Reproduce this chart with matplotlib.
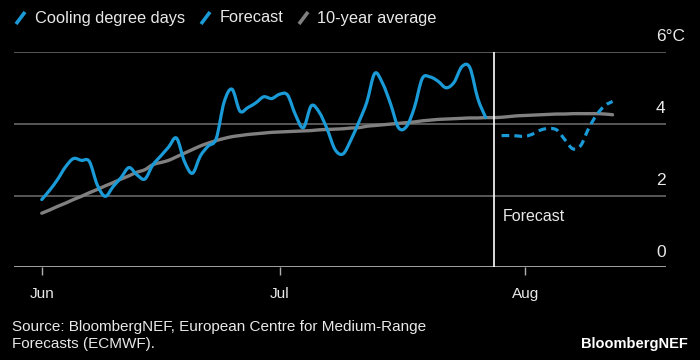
import numpy as np
import pandas as pd
import matplotlib
matplotlib.use("Agg")
from matplotlib import pyplot as plt
from matplotlib.lines import Line2D
from matplotlib.path import Path
from matplotlib.patches import PathPatch
import matplotlib.dates as mdates

plt.rcParams['font.family'] = ['Liberation Sans', 'DejaVu Sans']

# daily cooling degree days, Jun 1 .. Jul 27
cdd_start = "2022-06-01"
cdd = [1.89, 2.15, 2.45, 2.80, 3.03, 2.98, 2.95, 2.30, 1.98, 2.25,
       2.50, 2.78, 2.58, 2.46, 2.85, 3.10, 3.35, 3.60, 2.95, 2.62,
       3.10, 3.38, 3.58, 4.60, 4.96, 4.35, 4.45, 4.58, 4.75, 4.70,
       4.82, 4.80, 4.25, 3.89, 4.50, 4.32, 3.85, 3.28, 3.16, 3.55,
       4.05, 4.60, 5.40, 5.12, 4.55, 3.89, 3.92, 4.45, 5.26, 5.30,
       5.18, 5.00, 5.15, 5.59, 5.56, 4.70, 4.17]

# forecast, Jul 29 .. Aug 12
fc_start = "2022-07-29"
forecast = [3.67, 3.67, 3.66, 3.65, 3.72, 3.83, 3.87, 3.82, 3.55, 3.30,
            3.40, 3.88, 4.25, 4.50, 4.62]

# 10-year average, Jun 1 .. Aug 12
avg_start = "2022-06-01"
avg10 = [1.51, 1.60, 1.70, 1.79, 1.89, 1.98, 2.08, 2.17, 2.27, 2.36,
         2.46, 2.55, 2.65, 2.72, 2.86, 2.92, 2.98, 3.08, 3.18, 3.28,
         3.38, 3.46, 3.53, 3.59, 3.64, 3.67, 3.70, 3.72, 3.74, 3.76,
         3.77, 3.78, 3.79, 3.80, 3.81, 3.83, 3.84, 3.85, 3.86, 3.88,
         3.89, 3.93, 3.95, 3.97, 3.99, 4.01, 4.03, 4.05, 4.08, 4.10,
         4.12, 4.13, 4.14, 4.15, 4.16, 4.16, 4.17, 4.17, 4.18, 4.20,
         4.22, 4.23, 4.24, 4.25, 4.26, 4.27, 4.27, 4.28, 4.28, 4.28,
         4.28, 4.27, 4.25]

forecast_date = "2022-07-28"
month_ticks = ["2022-06-01", "2022-07-01", "2022-08-01"]
month_labels = ["Jun", "Jul", "Aug"]
y_ticks = [0, 2, 4, 6]
y_labels = ["0", "2", "4", "6°C"]

BLUE = "#1a9ad6"
GRAY = "#808080"
GRID = "#5e5e5e"
TXT = "#e8e8e8"


def smooth_path(x, y):
    # catmull-rom through the points, drawn as cubic bezier segments
    x = np.asarray(x, float)
    y = np.asarray(y, float)
    pts = np.column_stack([x, y])
    verts = [pts[0]]
    codes = [Path.MOVETO]
    n = len(pts)
    for i in range(n - 1):
        p0 = pts[max(i - 1, 0)]
        p1 = pts[i]
        p2 = pts[i + 1]
        p3 = pts[min(i + 2, n - 1)]
        c1 = p1 + (p2 - p0) / 6
        c2 = p2 - (p3 - p1) / 6
        verts += [c1, c2, p2]
        codes += [Path.CURVE4] * 3
    return Path(verts, codes)


def draw(ax, dates, vals, **kw):
    x = mdates.date2num(dates)
    ax.add_patch(PathPatch(smooth_path(x, vals), facecolor="none", **kw))


cdd_dates = pd.date_range(cdd_start, periods=len(cdd), freq="D")
fc_dates = pd.date_range(fc_start, periods=len(forecast), freq="D")
avg_dates = pd.date_range(avg_start, periods=len(avg10), freq="D")

fig = plt.figure(figsize=(7, 3.6), dpi=100, facecolor="black")
ax = fig.add_axes([0.02, 0.257, 0.931, 0.599], facecolor="black")

for v in y_ticks:
    ax.axhline(v, color=GRID if v > 0 else "#b0b0b0", lw=1.3, zorder=1)

draw(ax, avg_dates, avg10, edgecolor=GRAY, lw=2.4, capstyle="round", zorder=2)
draw(ax, cdd_dates, cdd, edgecolor=BLUE, lw=2.3, capstyle="round",
     joinstyle="round", zorder=3)
draw(ax, fc_dates, forecast, edgecolor=BLUE, lw=2.3, linestyle=(0, (2.4, 1.6)),
     zorder=3)
ax.axvline(pd.Timestamp(forecast_date), color="white", lw=1.2, zorder=4)
ax.text(pd.Timestamp(forecast_date) + pd.Timedelta(days=1.1), 1.42, "Forecast",
        color=TXT, fontsize=11.5, va="center", ha="left")

ax.set_ylim(0, 6)
ax.set_xlim(pd.Timestamp("2022-06-01") - pd.Timedelta(days=3.5),
            pd.Timestamp("2022-06-01") + pd.Timedelta(days=78.7))
ax.set_xticks(pd.to_datetime(month_ticks))
ax.set_xticklabels(month_labels)
ax.tick_params(axis="x", colors="#b0b0b0", length=6, width=1, labelcolor=TXT,
               labelsize=11, pad=8)
ax.set_yticks([])
for v, lab in zip(y_ticks, y_labels):
    ax.annotate(lab, xy=(1, v), xycoords=("axes fraction", "data"),
                xytext=(-7, 11), textcoords="offset points", color=TXT,
                fontsize=12.5, ha="left", va="center")
for s in ax.spines.values():
    s.set_visible(False)

# legend
def slash(x, color):
    fig.add_artist(Line2D([x / 700, (x + 9) / 700], [1 - 24 / 360, 1 - 12 / 360],
                          color=color, lw=2.6, solid_capstyle="butt"))

slash(16, BLUE)
fig.text(35 / 700, 1 - 18 / 360, "Cooling degree days", color=TXT, fontsize=11.8, va="center")
slash(201, BLUE)
fig.text(220 / 700, 1 - 18 / 360, "Forecast", color=TXT, fontsize=11.8, va="center")
slash(299, GRAY)
fig.text(317 / 700, 1 - 18 / 360, "10-year average", color=TXT, fontsize=11.8, va="center")

fig.text(12 / 700, 1 - 327 / 360, "Source: BloombergNEF, European Centre for Medium-Range",
         color=TXT, fontsize=11, va="center")
fig.text(12 / 700, 1 - 344 / 360, "Forecasts (ECMWF).", color=TXT, fontsize=11, va="center")
fig.text(688 / 700, 1 - 344 / 360, "BloombergNEF", color="white", fontsize=10.5,
         fontweight="bold", va="center", ha="right")

fig.savefig("out.png", dpi=100, facecolor="black")
